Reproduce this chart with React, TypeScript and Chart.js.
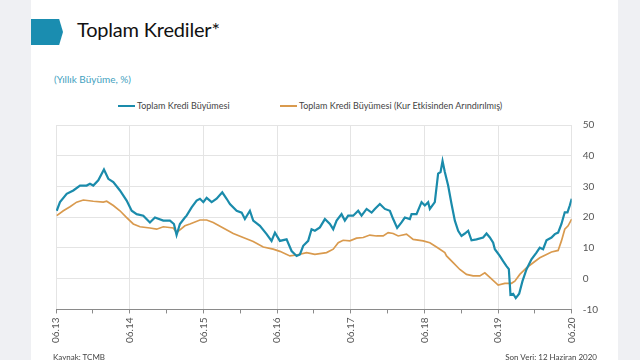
import React, { useEffect, useRef } from "react";
import { Chart, registerables } from "chart.js";

Chart.register(...registerables);

// x values: years since June 2013 (0 = 06.13, 7 = 06.20)
const tickYears = [13, 14, 15, 16, 17, 18, 19, 20];

const totalCreditT = [
  0.01, 0.054, 0.145, 0.235, 0.326, 0.416, 0.461, 0.506, 0.574, 0.651, 0.71, 0.778, 0.868, 0.959,
  1.027, 1.095, 1.185, 1.275, 1.343, 1.456, 1.547, 1.601, 1.637, 1.682, 1.75, 1.773, 1.841, 1.909,
  1.954, 2.0, 2.045, 2.113, 2.18, 2.257, 2.316, 2.361, 2.452, 2.52, 2.564, 2.632, 2.677, 2.768,
  2.859, 2.926, 2.972, 3.039, 3.13, 3.198, 3.266, 3.311, 3.356, 3.423, 3.469, 3.514, 3.582, 3.65,
  3.718, 3.763, 3.809, 3.876, 3.921, 3.966, 4.034, 4.102, 4.148, 4.216, 4.284, 4.328, 4.396, 4.464,
  4.532, 4.577, 4.631, 4.69, 4.735, 4.803, 4.826, 4.894, 4.962, 5.007, 5.052, 5.075, 5.142, 5.187,
  5.22, 5.247, 5.278, 5.323, 5.369, 5.414, 5.459, 5.504, 5.55, 5.595, 5.64, 5.708, 5.798, 5.844,
  5.889, 5.934, 5.957, 6.024, 6.069, 6.115, 6.147, 6.169, 6.205, 6.241, 6.287, 6.332, 6.386, 6.454,
  6.522, 6.567, 6.612, 6.658, 6.726, 6.771, 6.816, 6.861, 6.906, 6.943, 6.974, 7.0,
];
const totalCreditGrowth = [
  22.1, 24.9, 27.6, 28.7, 30.3, 30.3, 30.9, 30.3, 32, 35.5, 32.5, 31.4, 28.7, 25.4,
  22.1, 21, 20.5, 18.3, 19.9, 18.9, 18.9, 17.8, 14.2, 17.8, 19.9, 20.5, 23.2, 25.4,
  26, 24.9, 26.3, 24.9, 26, 28.1, 26, 24.3, 22.1, 21.5, 19.4, 22.1, 18.9, 17.2,
  14.5, 12.3, 15, 12.3, 12.8, 9, 7.4, 7.9, 10.7, 12.3, 16.1, 15.6, 16.7, 19.4,
  17.8, 16.1, 18.9, 21, 18.9, 20.5, 20.5, 22.1, 20.5, 22.7, 21.5, 22.7, 24.3, 22.7,
  22.1, 19.4, 16.5, 18.3, 19.9, 19.4, 21, 21, 24.9, 23.8, 24.9, 22.7, 24.9, 34.2,
  34.7, 38.3, 34.7, 30.3, 24.3, 18.9, 15.6, 13.9, 14.7, 15.6, 12.5, 12.8, 13.4, 14.7,
  13.4, 11.7, 9.6, 7.4, 5.7, 4.1, 3.1, -5.2, -4.9, -6.3, -4.9, -0.8, 3, 6.3,
  8.5, 10.1, 9.6, 12.5, 13.4, 14.5, 15, 17.8, 21.6, 21.6, 23.8, 26,
];

const fxAdjustedT = [
  0.01, 0.1, 0.19, 0.28, 0.371, 0.506, 0.642, 0.688, 0.778, 0.868, 0.959, 1.049, 1.14, 1.275,
  1.366, 1.456, 1.592, 1.637, 1.75, 1.818, 1.954, 2.045, 2.134, 2.27, 2.406, 2.541, 2.677, 2.813,
  2.948, 3.039, 3.175, 3.266, 3.402, 3.514, 3.673, 3.763, 3.831, 3.898, 3.989, 4.08, 4.17, 4.26,
  4.351, 4.441, 4.509, 4.577, 4.645, 4.758, 4.848, 4.984, 5.075, 5.165, 5.278, 5.301, 5.391, 5.482,
  5.572, 5.662, 5.753, 5.821, 5.889, 6.002, 6.092, 6.183, 6.228, 6.296, 6.386, 6.477, 6.567, 6.658,
  6.726, 6.816, 6.861, 6.906, 6.951, 7.0,
];
const fxAdjustedGrowth = [
  20.5, 22.1, 23.4, 24.9, 25.6, 25.2, 24.9, 25.2, 23.8, 22.1, 19.9, 17.8, 16.9, 16.5,
  16.1, 16.9, 16.5, 15, 17.2, 17.8, 19.1, 19.1, 18.3, 16.5, 14.7, 13.4, 12.1, 10.3,
  9.6, 8.9, 7.4, 7.7, 8.5, 7.9, 8.5, 9.6, 11.7, 12.5, 12.3, 13.2, 13.4, 14.2,
  13.9, 13.9, 15, 14.7, 13.9, 14.5, 12.8, 12.3, 11.7, 10.3, 8.5, 7.4, 5.2, 3,
  1.4, 0.9, 0.9, 1.9, 0.4, -2.1, -1.5, -1.5, -0.8, 1.4, 3.5, 5.2, 6.8, 7.9,
  8.7, 9.2, 12.3, 16.1, 17.2, 19.4,
];

const seriesNames = [
  "Toplam Kredi Büyümesi",
  "Toplam Kredi Büyümesi (Kur Etkisinden Arındırılmış)",
];

const BLUE = "#1a8bab";
const ORANGE = "#d99a4e";
const FONT = "Lato, 'Open Sans', sans-serif";

export default function App() {
  const ref = useRef<HTMLCanvasElement | null>(null);

  useEffect(() => {
    if (!ref.current) return;
    const chart = new Chart(ref.current, {
      type: "line",
      data: {
        datasets: [
          {
            label: seriesNames[0],
            data: totalCreditT.map((t, i) => ({ x: t, y: totalCreditGrowth[i] })),
            borderColor: BLUE,
            borderWidth: 2.2,
            pointRadius: 0,
            tension: 0,
          },
          {
            label: seriesNames[1],
            data: fxAdjustedT.map((t, i) => ({ x: t, y: fxAdjustedGrowth[i] })),
            borderColor: ORANGE,
            borderWidth: 1.7,
            pointRadius: 0,
            tension: 0,
          },
        ],
      },
      options: {
        animation: false,
        responsive: false,
        maintainAspectRatio: false,
        layout: { padding: { left: 56, top: 125, right: 31, bottom: 13 } },
        plugins: { legend: { display: false }, tooltip: { enabled: false } },
        scales: {
          x: {
            type: "linear",
            min: 0,
            max: 7,
            border: { color: "#8a8a8a" },
            grid: {
              color: (ctx: any) =>
                ctx.tick && !Number.isInteger(ctx.tick.value) ? "rgba(0,0,0,0)" : "#e4e4e4",
              tickColor: "#8a8a8a",
              tickLength: 4,
            },
            ticks: {
              stepSize: 0.5,
              autoSkip: false,
              minRotation: 90,
              maxRotation: 90,
              padding: 4,
              color: "#555",
              font: { family: FONT, size: 10 },
              callback: (v: any) =>
                Number.isInteger(v) ? `06.${tickYears[v]}` : "",
            },
          },
          y: {
            position: "right",
            min: -10,
            max: 50,
            border: { display: false },
            grid: { color: "#e4e4e4", drawTicks: false },
            ticks: {
              stepSize: 10,
              padding: 11,
              color: "#555",
              font: { family: FONT, size: 10 },
            },
          },
        },
      },
    });
    return () => chart.destroy();
  }, []);

  return (
    <div style={{ position: "fixed", left: 0, top: 0, width: 640, height: 360, background: "#eff0f3", overflow: "hidden", fontFamily: FONT }}>
      <div style={{ position: "absolute", left: 31, top: 0, width: 587, height: 360, background: "#ffffff" }} />
      <div
        style={{
          position: "absolute",
          left: 31,
          top: 19,
          width: 32,
          height: 26,
          background: "#1a8db0",
          clipPath: "polygon(0 0, 88% 0, 100% 50%, 88% 100%, 0 100%)",
        }}
      />
      <div style={{ position: "absolute", left: 77, top: 17, fontSize: 20, color: "#111", whiteSpace: "nowrap", letterSpacing: -0.2 }}>
        Toplam Krediler*
      </div>
      <div style={{ position: "absolute", left: 54, top: 73, fontSize: 10, color: "#3fa1c0", whiteSpace: "nowrap" }}>
        (Yıllık Büyüme, %)
      </div>
      <div style={{ position: "absolute", left: 118, top: 100, fontSize: 9, color: "#444", whiteSpace: "nowrap", display: "flex", alignItems: "center" }}>
        <span style={{ display: "inline-block", width: 17, height: 2, background: BLUE, marginRight: 2 }} />
        {seriesNames[0]}
      </div>
      <div style={{ position: "absolute", left: 280, top: 100, fontSize: 9, color: "#444", whiteSpace: "nowrap", display: "flex", alignItems: "center" }}>
        <span style={{ display: "inline-block", width: 17, height: 2, background: ORANGE, marginRight: 2 }} />
        {seriesNames[1]}
      </div>
      <canvas ref={ref} width={640} height={360} style={{ position: "absolute", left: 0, top: 0, width: 640, height: 360 }} />
      <div style={{ position: "absolute", left: 53, top: 352, fontSize: 8, color: "#444", whiteSpace: "nowrap" }}>
        Kaynak: TCMB
      </div>
      <div style={{ position: "absolute", right: 43, top: 352, fontSize: 8, color: "#444", whiteSpace: "nowrap" }}>
        Son Veri: 12 Haziran 2020
      </div>
    </div>
  );
}
